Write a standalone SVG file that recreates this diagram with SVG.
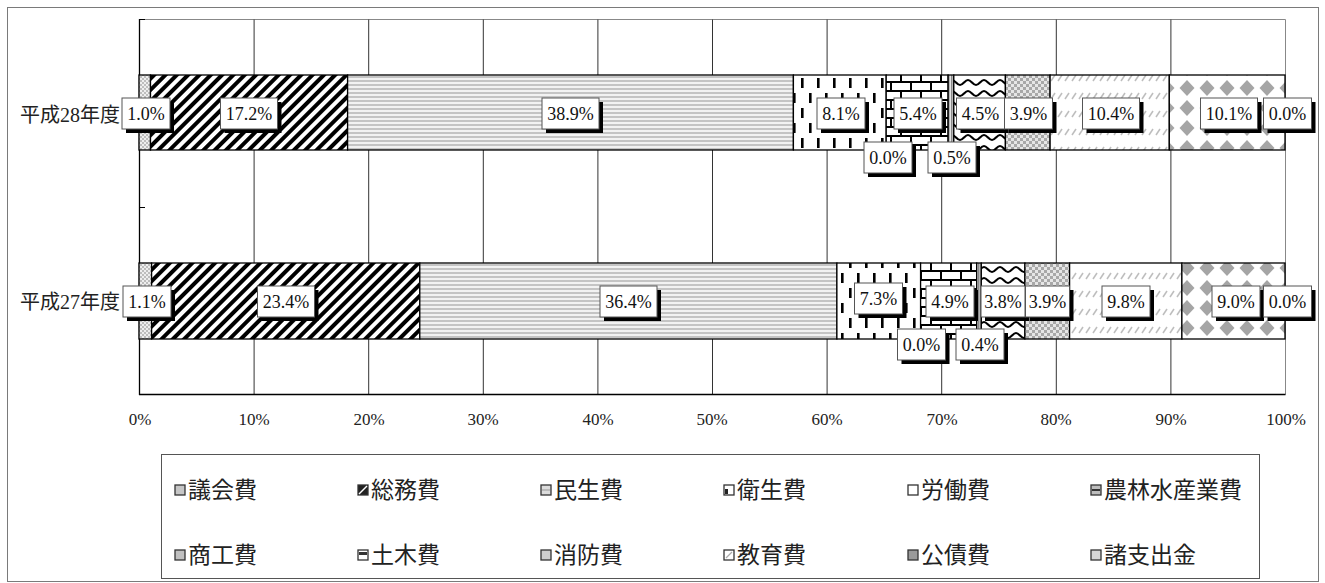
<svg xmlns="http://www.w3.org/2000/svg" width="1325" height="583" viewBox="0 0 1325 583">
<style>
.seg{stroke:#000;stroke-width:1.3}
.grid{stroke:#333;stroke-width:1}
.sh{fill:#000}
.bx{fill:#fff;stroke:#555;stroke-width:1}
.v{font-family:"Liberation Serif","Noto Sans CJK JP",serif;font-size:18px;fill:#111;text-anchor:middle}
.ax{font-family:"Liberation Serif",serif;font-size:17px;fill:#222;text-anchor:middle}
.cat{font-family:"Liberation Serif","Noto Sans CJK JP",serif;font-size:20px;fill:#222;text-anchor:end}
.lg{font-family:"Noto Sans CJK JP",sans-serif;font-size:23px;fill:#222}
.key{stroke:#333;stroke-width:1.3}
</style>
<defs>
<pattern id="p-gikai" patternUnits="userSpaceOnUse" width="4" height="4"><rect width="4" height="4" fill="#eeeeee"/><rect width="2" height="2" fill="#bdbdbd"/><rect x="2" y="2" width="2" height="2" fill="#bdbdbd"/></pattern>
<pattern id="p-somu" patternUnits="userSpaceOnUse" width="8" height="8" patternTransform="rotate(45)"><rect width="8" height="8" fill="#fff"/><rect width="4" height="8" fill="#000"/></pattern>
<pattern id="p-minsei" patternUnits="userSpaceOnUse" width="4" height="4"><rect width="4" height="4" fill="#f2f2f2"/><rect width="4" height="2" fill="#c4c4c4"/></pattern>
<pattern id="p-eisei" patternUnits="userSpaceOnUse" width="16" height="30"><rect width="16" height="30" fill="#fff"/><rect x="1" y="18" width="2.6" height="10" fill="#000"/><rect x="9" y="3" width="2.6" height="10" fill="#000"/></pattern>
<pattern id="p-noringyo" patternUnits="userSpaceOnUse" width="20" height="18"><rect width="20" height="18" fill="#fff"/><rect y="0" width="20" height="2" fill="#000"/><rect y="9" width="20" height="2" fill="#000"/><rect x="0" y="0" width="2" height="9" fill="#000"/><rect x="10" y="9" width="2" height="9" fill="#000"/></pattern>
<pattern id="p-shoko" patternUnits="userSpaceOnUse" width="3" height="3"><rect width="3" height="3" fill="#e4e4e4"/><rect width="1.5" height="3" fill="#8a8a8a"/></pattern>
<pattern id="p-doboku" patternUnits="userSpaceOnUse" width="16" height="11"><rect width="16" height="11" fill="#fff"/><path d="M0,8 C3,8 5,3 8,3 C11,3 13,8 16,8" fill="none" stroke="#000" stroke-width="2.2"/></pattern>
<pattern id="p-shobo" patternUnits="userSpaceOnUse" width="6" height="6"><rect width="6" height="6" fill="#e6e6e6"/><rect width="3" height="3" fill="#a8a8a8"/><rect x="3" y="3" width="3" height="3" fill="#a8a8a8"/></pattern>
<pattern id="p-kyoiku" patternUnits="userSpaceOnUse" width="7" height="18"><rect width="7" height="18" fill="#fff"/><path d="M1,9 L5,3" stroke="#bdbdbd" stroke-width="1.5"/></pattern>
<pattern id="p-kosai" patternUnits="userSpaceOnUse" x="-3" y="-2" width="20" height="20"><rect width="20" height="20" fill="#fff"/><polygon points="10,2 17.5,10 10,18 2.5,10" fill="#a5a5a5"/></pattern>
</defs>

<rect id="frame" x="7.5" y="7.5" width="1311" height="574" fill="#fff" stroke="#7a7a7a" stroke-width="1"/>

<g id="plot">
<rect x="139.5" y="19.5" width="1146" height="375" fill="#fff" stroke="none"/>
<line x1="139" y1="19.5" x2="1285.5" y2="19.5" stroke="#888"/>
<line x1="1285.5" y1="19.5" x2="1285.5" y2="394.5" stroke="#888"/>
<line class="grid" x1="254.1" y1="19.5" x2="254.1" y2="394"/>
<line class="grid" x1="368.7" y1="19.5" x2="368.7" y2="394"/>
<line class="grid" x1="483.3" y1="19.5" x2="483.3" y2="394"/>
<line class="grid" x1="597.9" y1="19.5" x2="597.9" y2="394"/>
<line class="grid" x1="712.5" y1="19.5" x2="712.5" y2="394"/>
<line class="grid" x1="827.1" y1="19.5" x2="827.1" y2="394"/>
<line class="grid" x1="941.7" y1="19.5" x2="941.7" y2="394"/>
<line class="grid" x1="1056.3" y1="19.5" x2="1056.3" y2="394"/>
<line class="grid" x1="1170.9" y1="19.5" x2="1170.9" y2="394"/>
<line x1="139.5" y1="19" x2="139.5" y2="395" stroke="#000" stroke-width="1.3"/>
<line x1="139" y1="394.5" x2="1285.5" y2="394.5" stroke="#000" stroke-width="1.3"/>
<line x1="139.5" y1="19.5" x2="145" y2="19.5" stroke="#000"/>
<line x1="139.5" y1="207.5" x2="145" y2="207.5" stroke="#000"/>
</g>

<g id="axis-labels">
<text class="ax" x="140" y="425">0%</text>
<text class="ax" x="254" y="425">10%</text>
<text class="ax" x="369" y="425">20%</text>
<text class="ax" x="483" y="425">30%</text>
<text class="ax" x="598" y="425">40%</text>
<text class="ax" x="712" y="425">50%</text>
<text class="ax" x="827" y="425">60%</text>
<text class="ax" x="942" y="425">70%</text>
<text class="ax" x="1056" y="425">80%</text>
<text class="ax" x="1171" y="425">90%</text>
<text class="ax" x="1286" y="425">100%</text>
</g>

<g id="bar-h28">
<rect class="seg" x="139" y="75" width="11.5" height="75" fill="url(#p-gikai)"/>
<rect class="seg" x="150.5" y="75" width="197.1" height="75" fill="url(#p-somu)"/>
<rect class="seg" x="347.6" y="75" width="445.8" height="75" fill="url(#p-minsei)"/>
<rect class="seg" x="793.4" y="75" width="92.8" height="75" fill="url(#p-eisei)"/>
<rect class="seg" x="886.2" y="75" width="61.9" height="75" fill="url(#p-noringyo)"/>
<rect class="seg" x="948.1" y="75" width="5.7" height="75" fill="url(#p-shoko)"/>
<rect class="seg" x="953.8" y="75" width="51.6" height="75" fill="url(#p-doboku)"/>
<rect class="seg" x="1005.4" y="75" width="44.7" height="75" fill="url(#p-shobo)"/>
<rect class="seg" x="1050.1" y="75" width="119.2" height="75" fill="url(#p-kyoiku)"/>
<rect class="seg" x="1169.3" y="75" width="115.7" height="75" fill="url(#p-kosai)"/>
</g>

<g id="bar-h27">
<rect class="seg" x="139" y="263" width="12.6" height="76" fill="url(#p-gikai)"/>
<rect class="seg" x="151.6" y="263" width="268.2" height="76" fill="url(#p-somu)"/>
<rect class="seg" x="419.8" y="263" width="417.1" height="76" fill="url(#p-minsei)"/>
<rect class="seg" x="836.9" y="263" width="83.7" height="76" fill="url(#p-eisei)"/>
<rect class="seg" x="920.6" y="263" width="56.1" height="76" fill="url(#p-noringyo)"/>
<rect class="seg" x="976.7" y="263" width="4.6" height="76" fill="url(#p-shoko)"/>
<rect class="seg" x="981.3" y="263" width="43.6" height="76" fill="url(#p-doboku)"/>
<rect class="seg" x="1024.9" y="263" width="44.7" height="76" fill="url(#p-shobo)"/>
<rect class="seg" x="1069.6" y="263" width="112.3" height="76" fill="url(#p-kyoiku)"/>
<rect class="seg" x="1181.9" y="263" width="103.1" height="76" fill="url(#p-kosai)"/>
</g>

<g id="category-labels">
<text class="cat" x="120" y="122">平成28年度</text>
<text class="cat" x="120" y="309">平成27年度</text>
</g>

<g id="labels-h28">
<g transform="translate(146,113.5)"><rect class="sh" x="-20" y="-11.5" width="48" height="31"/><rect class="bx" x="-24" y="-15.5" width="48" height="31"/><text class="v" y="6">1.0%</text></g>
<g transform="translate(249,113.5)"><rect class="sh" x="-24.5" y="-11.5" width="57" height="31"/><rect class="bx" x="-28.5" y="-15.5" width="57" height="31"/><text class="v" y="6">17.2%</text></g>
<g transform="translate(570.5,113.5)"><rect class="sh" x="-24.5" y="-11.5" width="57" height="31"/><rect class="bx" x="-28.5" y="-15.5" width="57" height="31"/><text class="v" y="6">38.9%</text></g>
<g transform="translate(841,113.5)"><rect class="sh" x="-20" y="-11.5" width="48" height="31"/><rect class="bx" x="-24" y="-15.5" width="48" height="31"/><text class="v" y="6">8.1%</text></g>
<g transform="translate(888,157.5)"><rect class="sh" x="-20" y="-11.5" width="48" height="31"/><rect class="bx" x="-24" y="-15.5" width="48" height="31"/><text class="v" y="6">0.0%</text></g>
<g transform="translate(918,113.5)"><rect class="sh" x="-20" y="-11.5" width="48" height="31"/><rect class="bx" x="-24" y="-15.5" width="48" height="31"/><text class="v" y="6">5.4%</text></g>
<g transform="translate(952,157.5)"><rect class="sh" x="-20" y="-11.5" width="48" height="31"/><rect class="bx" x="-24" y="-15.5" width="48" height="31"/><text class="v" y="6">0.5%</text></g>
<g transform="translate(980.5,113.5)"><rect class="sh" x="-20" y="-11.5" width="48" height="31"/><rect class="bx" x="-24" y="-15.5" width="48" height="31"/><text class="v" y="6">4.5%</text></g>
<g transform="translate(1028.5,113.5)"><rect class="sh" x="-20" y="-11.5" width="48" height="31"/><rect class="bx" x="-24" y="-15.5" width="48" height="31"/><text class="v" y="6">3.9%</text></g>
<g transform="translate(1111,113.5)"><rect class="sh" x="-24.5" y="-11.5" width="57" height="31"/><rect class="bx" x="-28.5" y="-15.5" width="57" height="31"/><text class="v" y="6">10.4%</text></g>
<g transform="translate(1229,113.5)"><rect class="sh" x="-24.5" y="-11.5" width="57" height="31"/><rect class="bx" x="-28.5" y="-15.5" width="57" height="31"/><text class="v" y="6">10.1%</text></g>
<g transform="translate(1287.5,113.5)"><rect class="sh" x="-20" y="-11.5" width="48" height="31"/><rect class="bx" x="-24" y="-15.5" width="48" height="31"/><text class="v" y="6">0.0%</text></g>
</g>

<g id="labels-h27">
<g transform="translate(147,301.5)"><rect class="sh" x="-20" y="-11.5" width="48" height="31"/><rect class="bx" x="-24" y="-15.5" width="48" height="31"/><text class="v" y="6">1.1%</text></g>
<g transform="translate(286,301.5)"><rect class="sh" x="-24.5" y="-11.5" width="57" height="31"/><rect class="bx" x="-28.5" y="-15.5" width="57" height="31"/><text class="v" y="6">23.4%</text></g>
<g transform="translate(628.5,301.5)"><rect class="sh" x="-24.5" y="-11.5" width="57" height="31"/><rect class="bx" x="-28.5" y="-15.5" width="57" height="31"/><text class="v" y="6">36.4%</text></g>
<g transform="translate(878.5,298.5)"><rect class="sh" x="-20" y="-11.5" width="48" height="31"/><rect class="bx" x="-24" y="-15.5" width="48" height="31"/><text class="v" y="6">7.3%</text></g>
<g transform="translate(921.5,344.5)"><rect class="sh" x="-20" y="-11.5" width="48" height="31"/><rect class="bx" x="-24" y="-15.5" width="48" height="31"/><text class="v" y="6">0.0%</text></g>
<g transform="translate(950,301.5)"><rect class="sh" x="-20" y="-11.5" width="48" height="31"/><rect class="bx" x="-24" y="-15.5" width="48" height="31"/><text class="v" y="6">4.9%</text></g>
<g transform="translate(980,344.5)"><rect class="sh" x="-20" y="-11.5" width="48" height="31"/><rect class="bx" x="-24" y="-15.5" width="48" height="31"/><text class="v" y="6">0.4%</text></g>
<g transform="translate(1003,301.5)"><rect class="sh" x="-18" y="-11.5" width="44" height="31"/><rect class="bx" x="-22" y="-15.5" width="44" height="31"/><text class="v" y="6">3.8%</text></g>
<g transform="translate(1047.5,301.5)"><rect class="sh" x="-18" y="-11.5" width="44" height="31"/><rect class="bx" x="-22" y="-15.5" width="44" height="31"/><text class="v" y="6">3.9%</text></g>
<g transform="translate(1126,301.5)"><rect class="sh" x="-20" y="-11.5" width="48" height="31"/><rect class="bx" x="-24" y="-15.5" width="48" height="31"/><text class="v" y="6">9.8%</text></g>
<g transform="translate(1236,301.5)"><rect class="sh" x="-20" y="-11.5" width="48" height="31"/><rect class="bx" x="-24" y="-15.5" width="48" height="31"/><text class="v" y="6">9.0%</text></g>
<g transform="translate(1287.5,301.5)"><rect class="sh" x="-20" y="-11.5" width="48" height="31"/><rect class="bx" x="-24" y="-15.5" width="48" height="31"/><text class="v" y="6">0.0%</text></g>
</g>

<g id="legend">
<rect x="161.5" y="454.5" width="1098" height="124" fill="#fff" stroke="#555" stroke-width="1"/>
<g id="lg-gikai"><rect class="key" x="175" y="485" width="10" height="10" fill="#c6c6c6"/><text class="lg" x="188" y="498">議会費</text></g>
<g id="lg-somu"><rect class="key" x="358" y="485" width="10" height="10" fill="#222"/><line x1="359" y1="494" x2="367" y2="486" stroke="#fff" stroke-width="1.5"/><text class="lg" x="371" y="498">総務費</text></g>
<g id="lg-minsei"><rect class="key" x="541" y="485" width="10" height="10" fill="#dcdcdc"/><line x1="542" y1="490" x2="550" y2="490" stroke="#999" stroke-width="1"/><text class="lg" x="554" y="498">民生費</text></g>
<g id="lg-eisei"><rect class="key" x="724" y="485" width="10" height="10" fill="#fff"/><rect x="725" y="489" width="3" height="5" fill="#222"/><text class="lg" x="737" y="498">衛生費</text></g>
<g id="lg-rodo"><rect class="key" x="908" y="485" width="10" height="10" fill="#fff"/><text class="lg" x="921" y="498">労働費</text></g>
<g id="lg-noringyo"><rect class="key" x="1091" y="485" width="10" height="10" fill="#bdbdbd"/><line x1="1092" y1="490" x2="1100" y2="490" stroke="#111" stroke-width="1.6"/><text class="lg" x="1104" y="498">農林水産業費</text></g>
<g id="lg-shoko"><rect class="key" x="175" y="550" width="10" height="10" fill="#c0c0c0"/><text class="lg" x="188" y="563">商工費</text></g>
<g id="lg-doboku"><rect class="key" x="358" y="550" width="10" height="10" fill="#fff"/><rect x="359" y="552" width="8" height="3" fill="#333"/><text class="lg" x="371" y="563">土木費</text></g>
<g id="lg-shobo"><rect class="key" x="541" y="550" width="10" height="10" fill="#cfcfcf"/><text class="lg" x="554" y="563">消防費</text></g>
<g id="lg-kyoiku"><rect class="key" x="724" y="550" width="10" height="10" fill="#fff"/><line x1="726" y1="558" x2="732" y2="552" stroke="#aaa" stroke-width="1.2"/><text class="lg" x="737" y="563">教育費</text></g>
<g id="lg-kosai"><rect class="key" x="908" y="550" width="10" height="10" fill="#9a9a9a"/><text class="lg" x="921" y="563">公債費</text></g>
<g id="lg-shoshishutsu"><rect class="key" x="1091" y="550" width="10" height="10" fill="#d6d6d6"/><text class="lg" x="1104" y="563">諸支出金</text></g>
</g>
</svg>
